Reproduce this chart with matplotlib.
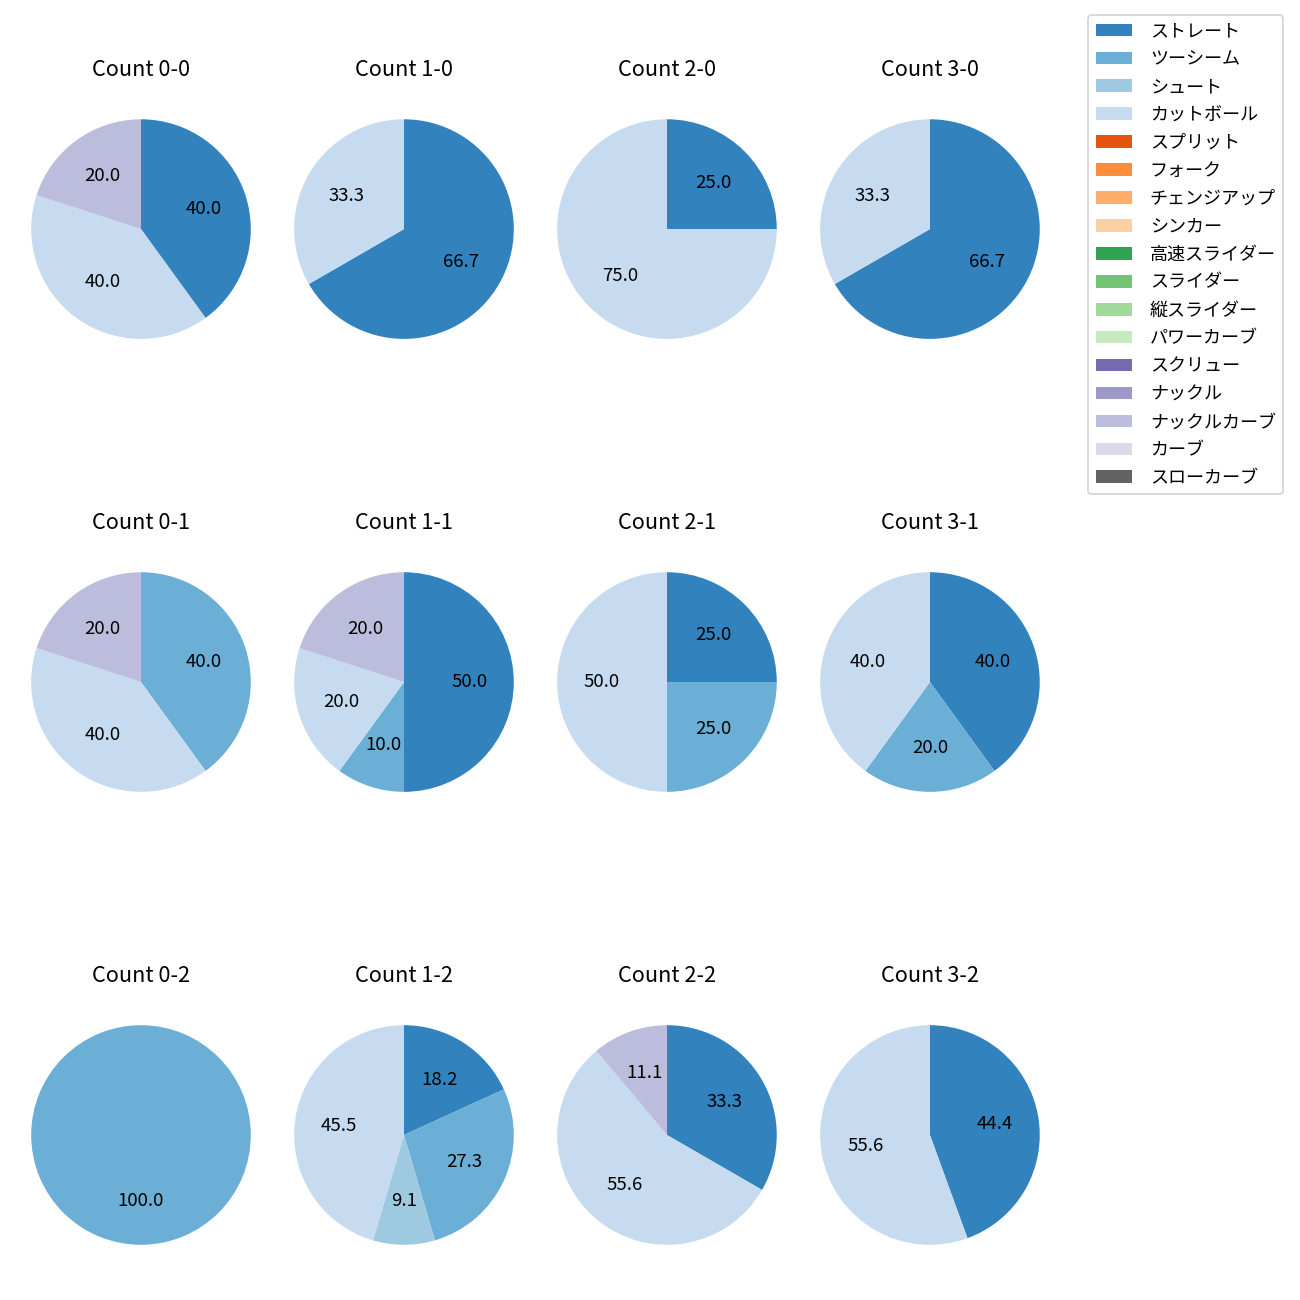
import matplotlib
matplotlib.use("Agg")
import matplotlib.pyplot as plt
from matplotlib.patches import Patch

plt.rcParams['font.family'] = ['Noto Sans CJK JP', 'DejaVu Sans']

# --------------------------------------------------
# Data
# --------------------------------------------------
pitch_types = ['ストレート', 'ツーシーム', 'シュート', 'カットボール', 'スプリット',
               'フォーク', 'チェンジアップ', 'シンカー', '高速スライダー', 'スライダー',
               '縦スライダー', 'パワーカーブ', 'スクリュー', 'ナックル', 'ナックルカーブ',
               'カーブ', 'スローカーブ']
pitch_colors = ['#3182bd', '#6baed6', '#9ecae1', '#c6dbef', '#e6550d',
                '#fd8d3c', '#fdae6b', '#fdd0a2', '#31a354', '#74c476',
                '#a1d99b', '#c7e9c0', '#756bb1', '#9e9ac8', '#bcbddc',
                '#dadaeb', '#636363']

balls = [0, 1, 2, 3]
strikes = [0, 1, 2]

# pitch counts per ball-strike count (only non-zero pitch types)
count_0_0 = {'ストレート': 2, 'カットボール': 2, 'ナックルカーブ': 1}
count_1_0 = {'ストレート': 2, 'カットボール': 1}
count_2_0 = {'ストレート': 1, 'カットボール': 3}
count_3_0 = {'ストレート': 2, 'カットボール': 1}
count_0_1 = {'ツーシーム': 2, 'カットボール': 2, 'ナックルカーブ': 1}
count_1_1 = {'ストレート': 5, 'ツーシーム': 1, 'カットボール': 2, 'ナックルカーブ': 2}
count_2_1 = {'ストレート': 1, 'ツーシーム': 1, 'カットボール': 2}
count_3_1 = {'ストレート': 2, 'ツーシーム': 1, 'カットボール': 2}
count_0_2 = {'ツーシーム': 3}
count_1_2 = {'ストレート': 2, 'ツーシーム': 3, 'シュート': 1, 'カットボール': 5}
count_2_2 = {'ストレート': 3, 'カットボール': 5, 'ナックルカーブ': 1}
count_3_2 = {'ストレート': 4, 'カットボール': 5}

count_data = {
    (0, 0): count_0_0, (1, 0): count_1_0, (2, 0): count_2_0, (3, 0): count_3_0,
    (0, 1): count_0_1, (1, 1): count_1_1, (2, 1): count_2_1, (3, 1): count_3_1,
    (0, 2): count_0_2, (1, 2): count_1_2, (2, 2): count_2_2, (3, 2): count_3_2,
}

color_map = dict(zip(pitch_types, pitch_colors))

# --------------------------------------------------
# Figure
# --------------------------------------------------
fig, axes = plt.subplots(3, 4, figsize=(10, 10), dpi=130)
fig.subplots_adjust(left=0.0223, right=0.8015, top=0.933, bottom=0.0177,
                    wspace=0.174, hspace=0.595)

for s in strikes:
    for b in balls:
        ax = axes[s, b]
        d = count_data[(b, s)]
        names = [p for p in pitch_types if p in d]
        vals = [d[p] for p in names]
        ax.pie(vals, colors=[color_map[p] for p in names],
               autopct='%.1f', startangle=90, counterclock=False,
               textprops={'fontsize': 10.3})
        ax.set_aspect('equal', adjustable='datalim')
        ax.set_xlim(-1.02, 1.02)
        ax.set_ylim(-1.02, 1.02)
        ax.set_title(f'Count {b}-{s}', fontsize=12)

handles = [Patch(facecolor=c, label=p) for p, c in zip(pitch_types, pitch_colors)]
fig.legend(handles=handles, loc='upper right', fontsize=10,
           labelspacing=0.55, handletextpad=1.0,
           bbox_to_anchor=(1283 / 1300, 1 - 15 / 1300), borderaxespad=0)

plt.savefig('out.png', dpi=130)
